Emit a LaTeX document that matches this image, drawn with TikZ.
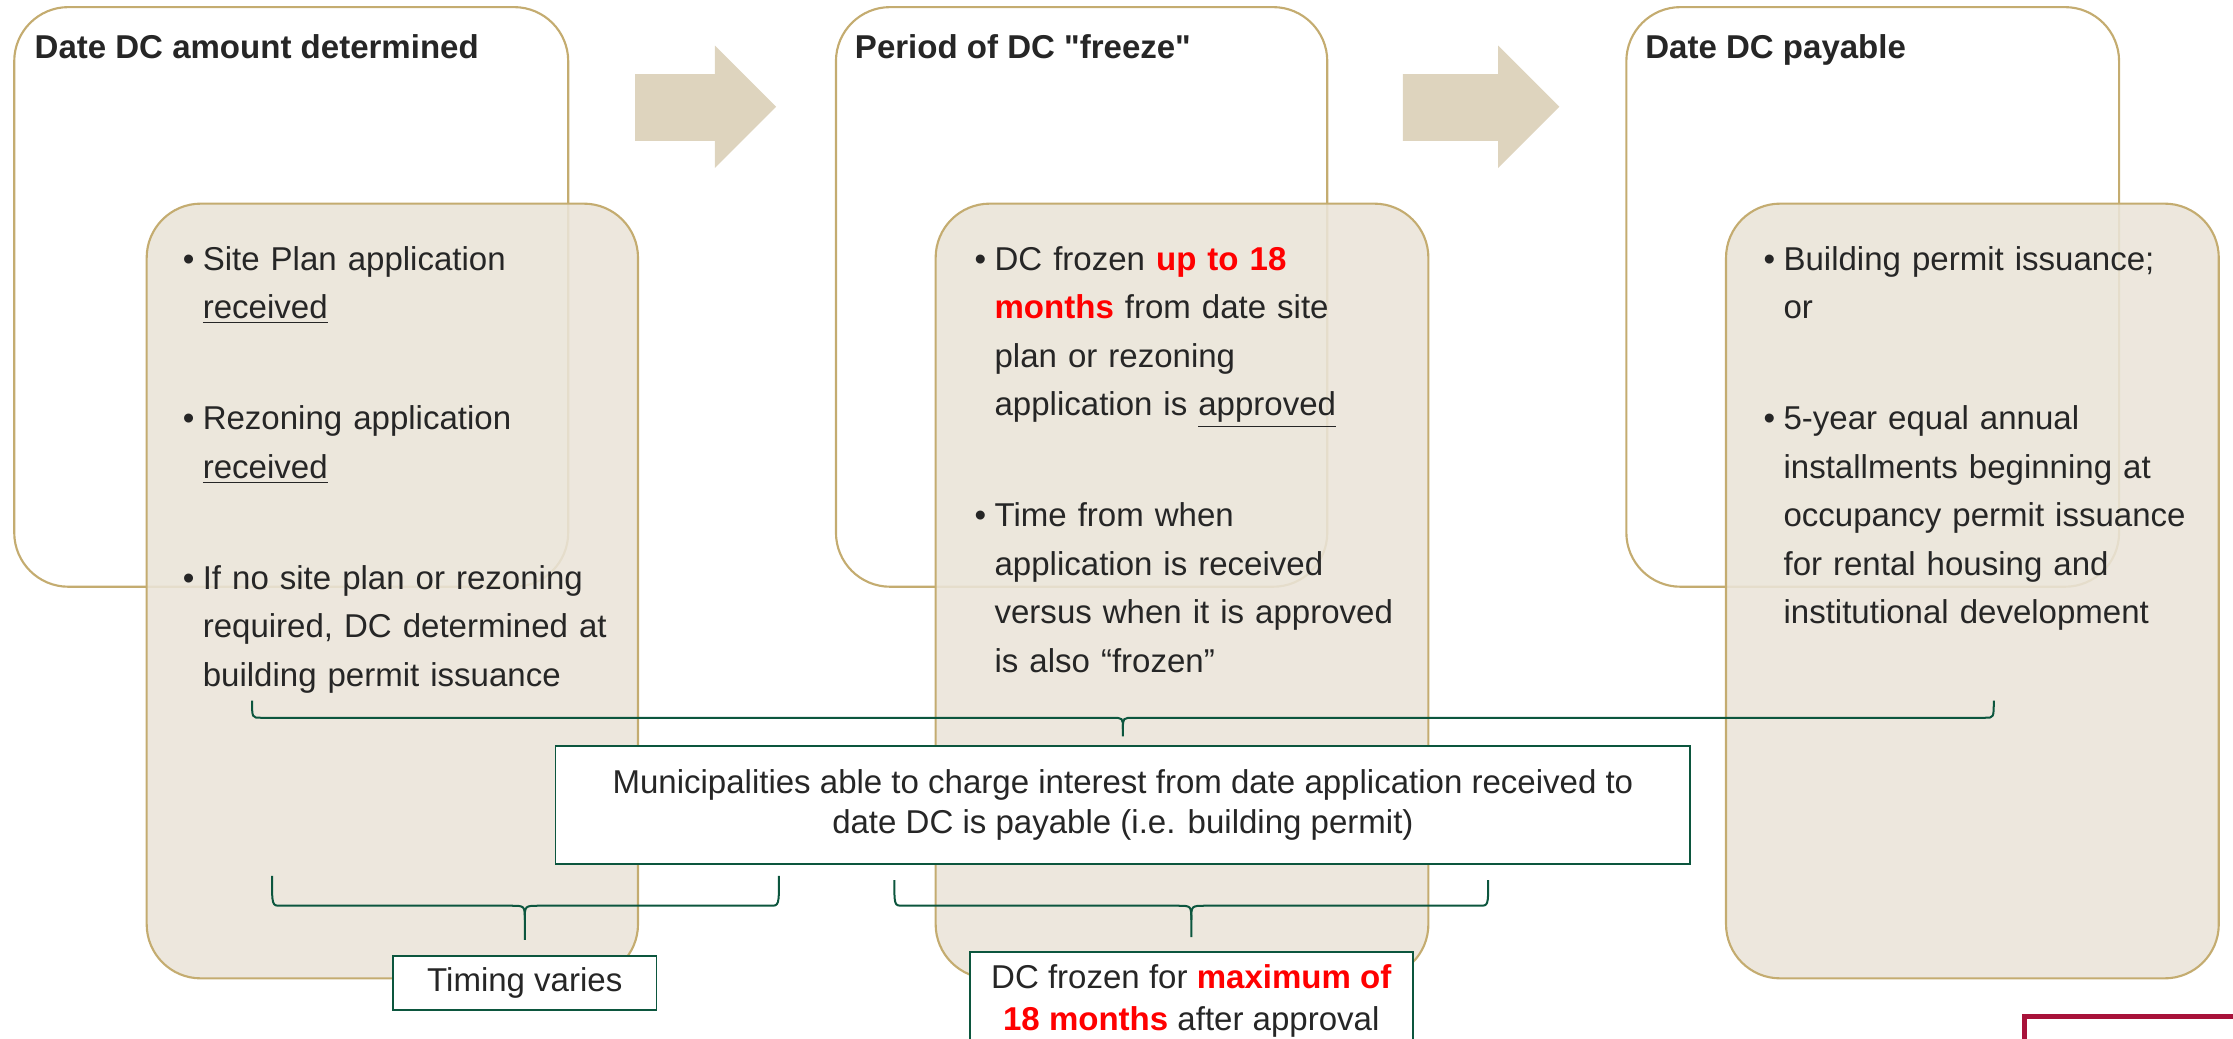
\documentclass[tikz,border=0pt]{standalone}
\usepackage{fontspec}
\setmainfont{Liberation Sans}[Ligatures=TeXOff]
\usetikzlibrary{calc}

\definecolor{gold}{RGB}{196,172,112}
\definecolor{sand}{RGB}{234,228,216}
\definecolor{arrowsand}{RGB}{222,212,190}
\definecolor{pine}{RGB}{12,86,62}
\definecolor{ink}{RGB}{38,38,38}
\definecolor{crimson}{RGB}{168,18,58}

% bullet and continuation indent for the item lists
\newcommand\bul{\makebox[8pt][l]{\textbullet}}
\newcommand\cnt{\hspace*{8pt}}
\newcommand\hot[1]{\textcolor{red}{\bfseries #1}}

% curly brace opening downwards: #1 left end, #2 right end, #3 tip,
% #4 drop from the ends to the bar, #5 size of the curl into the stem
\newcommand\curlybrace[5]{%
  \path (#1) ++(0,#4) coordinate (hL) (#2) ++(0,#4) coordinate (hR)
        (#3 |- hL) coordinate (hM);
  \draw[bracepen] (#1) .. controls (hL) .. ($(hL)+(6,0)$)
     -- ($(hM)+(-#5,0)$) .. controls (hM) .. ($(hM)+(0,#5)$) -- (#3);
  \draw[bracepen] (#2) .. controls (hR) .. ($(hR)+(-6,0)$)
     -- ($(hM)+(#5,0)$) .. controls (hM) .. ($(hM)+(0,#5)$);
}

\tikzset{
  stagebox/.style={draw=gold, line width=0.85pt, rounded corners=0.76cm, fill=white},
  notebox/.style={draw=gold, line width=0.85pt, rounded corners=0.76cm, fill=sand, fill opacity=0.88},
  flowarrow/.style={fill=arrowsand, draw=none},
  stagetitle/.style={anchor=base west, inner sep=0pt, text=ink,
    font=\fontsize{13.2}{16}\selectfont\bfseries},
  itemlist/.style={anchor=base west, inner sep=0pt, text width=7cm, align=left, text=ink,
    font=\fontsize{13.2}{19.35}\selectfont},
  notecard/.style={draw=pine, line width=0.75pt, fill=white, text=ink, align=center,
    inner xsep=0pt},
  bracepen/.style={draw=pine, line width=0.8pt},
}

\begin{document}
\begin{tikzpicture}[x=0.02cm, y=-0.02cm]
\useasboundingbox (0,0) rectangle (1568,729);

% stage frames
\path[stagebox] (10,5) rectangle (399,412);
\path[stagebox] (587,5) rectangle (932,412);
\path[stagebox] (1142,5) rectangle (1488,412);

% block arrows between stages
\path[flowarrow] (446,52) -- (502,52) -- (502,32) -- (545,75) -- (502,118) -- (502,99) -- (446,99) -- cycle;
\path[flowarrow] (985,52) -- (1052,52) -- (1052,32) -- (1095,75) -- (1052,118) -- (1052,99) -- (985,99) -- cycle;

% shaded detail cards
\path[notebox] (103,143) rectangle (448,687);
\path[notebox] (657,143) rectangle (1003,687);
\path[notebox] (1212,143) rectangle (1558,687);

% stage titles
\node[stagetitle] (t1) at (24,41) {Date DC amount determined};
\node[stagetitle] (t2) at (600,41) {Period of DC "freeze"};
\node[stagetitle] (t3) at (1155,41) {Date DC payable};

% item lists
\node[itemlist] (l1) at (128,190) {%
  \bul Site Plan application\\
  \cnt\underline{received}\\[25pt]
  \bul Rezoning application\\
  \cnt\underline{received}\\[25pt]
  \bul If no site plan or rezoning\\
  \cnt required, DC determined at\\
  \cnt building permit issuance};

\node[itemlist] (l2) at (684,190) {%
  \bul DC frozen \hot{up to 18}\\
  \cnt\hot{months} from date site\\
  \cnt plan or rezoning\\
  \cnt application is \underline{approved}\\[25pt]
  \bul Time from when\\
  \cnt application is received\\
  \cnt versus when it is approved\\
  \cnt is also “frozen”};

\node[itemlist] (l3) at (1238,190) {%
  \bul Building permit issuance;\\
  \cnt or\\[25pt]
  \bul 5-year equal annual\\
  \cnt installments beginning at\\
  \cnt occupancy permit issuance\\
  \cnt for rental housing and\\
  \cnt institutional development};

% call-out cards
\node[notecard, minimum width=15.94cm, minimum height=1.66cm,
      font=\fontsize{13.2}{15.9}\selectfont] (interest) at (788.5,565.5)
  {Municipalities able to charge interest from date application received to\\
   date DC is payable (i.e. building permit)};
\node[notecard, minimum width=3.7cm, minimum height=0.76cm,
      font=\fontsize{13.2}{15.9}\selectfont] (timing) at (368.5,690) {Timing varies};
\node[notecard, anchor=north, minimum width=6.22cm, inner ysep=0.18cm,
      font=\fontsize{13.2}{16.5}\selectfont] (frozen) at (836.5,668)
  {DC frozen for \hot{maximum of}\\
   \hot{18 months} after approval};

% brace end points and tips
\coordinate (b1L) at (177,492);
\coordinate (b1R) at (1400,492);
\coordinate (b1T) at (interest.north |- 0,517);
\coordinate (b2L) at (191,615);
\coordinate (b2R) at (547,615);
\coordinate (b2T) at (timing.north |- 0,660);
\coordinate (b3L) at (628,618);
\coordinate (b3R) at (1045,618);
\coordinate (b3T) at (frozen.north |- 0,658);

\curlybrace{b1L}{b1R}{b1T}{12}{8}
\curlybrace{b2L}{b2R}{b2T}{21}{10}
\curlybrace{b3L}{b3R}{b3T}{18}{10}

% corner frame at the lower right
\draw[crimson, line width=0.07cm] (1421.5,713.5) rectangle (1640,800);
\end{tikzpicture}
\end{document}
